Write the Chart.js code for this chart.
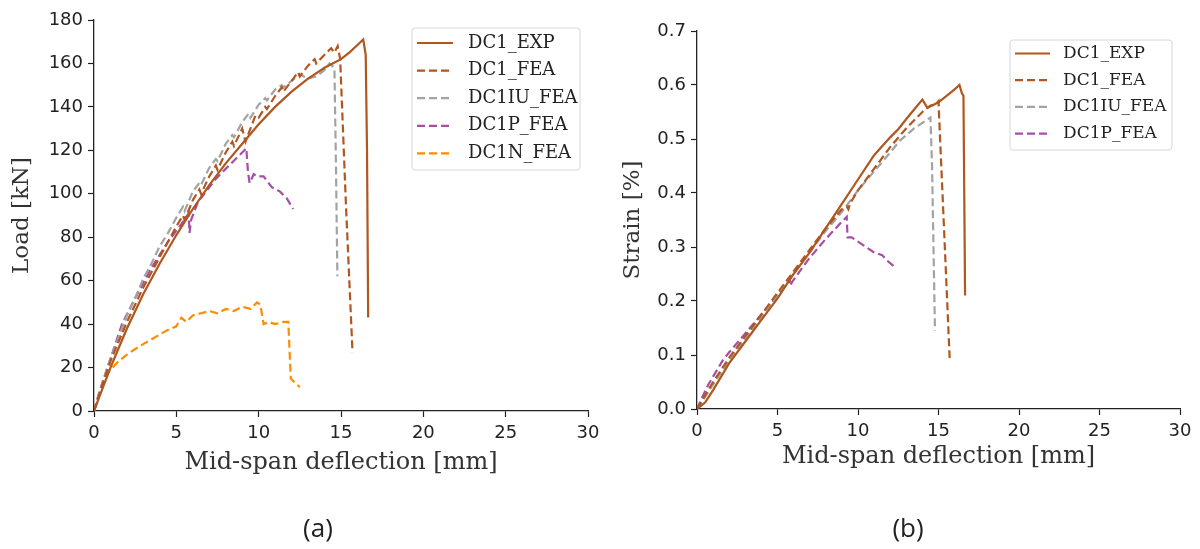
<!DOCTYPE html>
<html>
<head>
<meta charset="utf-8">
<script src="https://cdn.jsdelivr.net/npm/chart.js@4.4.1/dist/chart.umd.min.js"></script>
<style>
  body { margin: 0; background: #fff; }
  #wrap { position: relative; width: 1200px; height: 549px; overflow: hidden; }
  .pane { position: absolute; top: 0; width: 600px; height: 549px; }
  .cap { position: absolute; font-family: "Open Sans", sans-serif; font-size: 26px; color: #222; transform: translate(-50%, -50%); }
</style>
</head>
<body>
<div id="wrap">
  <div class="pane" style="left:0"><canvas id="loadChart" width="600" height="549"></canvas></div>
  <div class="pane" style="left:600px"><canvas id="strainChart" width="600" height="549"></canvas></div>
  <div class="cap" style="left:318px; top:527px">(a)</div>
  <div class="cap" style="left:908px; top:527px">(b)</div>
</div>
<script>
// (a) load vs mid-span deflection
const expLoadX = [0, 0.3, 0.7, 1, 1.5, 2, 3, 4, 5, 6, 7, 8, 9, 10, 11, 12, 13, 14, 15, 15.5, 16, 16.35, 16.5, 16.58, 16.65];
const expLoadY = [0, 6, 14, 20, 29, 38, 54, 68, 81, 93, 104, 114, 123, 132, 140, 147, 153, 158, 162, 165, 168.5, 171, 164, 120, 43];

const feaLoadX = [0, 0.5, 1, 1.5, 2, 2.5, 3, 3.5, 4, 4.5, 5, 5.4, 5.5, 6, 6.4, 6.5, 7, 7.4, 7.5, 8, 8.4, 8.5, 9, 9.2, 9.4, 9.8, 10, 10.4, 10.5, 11, 11.4, 11.5, 12, 12.4, 12.5, 13, 13.4, 13.5, 14, 14.4, 14.6, 14.8, 14.95, 15.3, 15.7];
const feaLoadY = [0, 12, 23, 32, 41, 49, 57, 64, 71, 78, 85, 90, 88, 97, 102, 100, 108, 113, 111, 119, 124, 122, 130, 124, 128, 136, 135, 140, 139, 145, 149, 147, 152, 156, 154, 159, 162, 160, 164, 167, 165, 168, 162, 95, 27];

const iuLoadX = [0, 0.5, 1, 1.5, 2, 2.5, 3, 3.5, 4, 4.5, 5, 5.4, 5.5, 6, 6.4, 6.5, 7, 7.4, 7.5, 8, 8.4, 8.5, 9, 9.4, 9.5, 10, 10.4, 10.5, 11, 11.4, 11.5, 12, 12.5, 13, 13.5, 14, 14.3, 14.6, 14.7, 14.78];
const iuLoadY = [0, 13, 24, 34, 44, 52, 61, 68, 76, 82, 89, 94, 92, 101, 105, 104, 112, 116, 115, 123, 127, 126, 133, 137, 135, 141, 144, 143, 148, 150, 149, 152, 155, 153, 154, 157, 160, 158, 110, 62];

const pLoadX = [0, 0.3, 0.6, 1, 1.7, 2.5, 3, 3.5, 4, 4.5, 5, 5.5, 5.75, 5.8, 5.9, 6.3, 6.8, 7.3, 7.8, 8.2, 8.6, 9, 9.25, 9.35, 9.45, 9.7, 9.9, 10.3, 10.8, 11.3, 11.7, 12.1];
const pLoadY = [0, 8, 15, 24, 40, 52, 59, 66, 72, 78, 83, 88, 91, 82, 88, 96, 101, 106, 110, 113, 116, 119, 121, 110, 105, 109, 108, 108, 103, 101, 98, 93];

const nLoadX = [0, 0.3, 0.7, 1, 1.5, 2, 2.8, 3.5, 4.4, 5, 5.3, 5.6, 6, 6.5, 7, 7.5, 8, 8.5, 9, 9.5, 9.9, 10.1, 10.3, 10.6, 11, 11.5, 11.8, 11.95, 12.2, 12.5];
const nLoadY = [0, 7, 16, 19, 23, 26, 30, 33, 37, 39, 43, 41, 44, 45, 46, 45, 47, 46, 48, 47, 50, 49, 40, 41, 40, 41, 41, 15, 13, 11];

// (b) strain vs mid-span deflection
const expStrainX = [0, 0.5, 1, 1.5, 2, 3, 4, 5, 6, 7, 8, 9, 10, 11, 12, 12.5, 13, 13.5, 14, 14.3, 14.6, 15, 15.5, 16, 16.3, 16.45, 16.55, 16.6, 16.65];
const expStrainY = [0, 0.012, 0.035, 0.06, 0.085, 0.125, 0.165, 0.205, 0.25, 0.29, 0.335, 0.38, 0.425, 0.47, 0.503, 0.518, 0.537, 0.555, 0.573, 0.558, 0.562, 0.568, 0.58, 0.592, 0.6, 0.585, 0.58, 0.4, 0.21];

const feaStrainX = [0, 0.5, 1, 2, 3, 4, 5, 6, 7, 8, 9, 9.3, 9.4, 9.5, 10, 11, 12, 13, 14, 14.5, 14.8, 15, 15.1, 15.7];
const feaStrainY = [0, 0.025, 0.05, 0.095, 0.135, 0.175, 0.215, 0.255, 0.295, 0.335, 0.37, 0.375, 0.37, 0.38, 0.405, 0.445, 0.485, 0.52, 0.55, 0.562, 0.563, 0.57, 0.5, 0.09];

const iuStrainX = [0, 0.5, 1, 2, 3, 4, 5, 6, 7, 8, 9, 10, 11, 12, 12.6, 13, 13.5, 14, 14.5, 14.6, 14.78];
const iuStrainY = [0, 0.022, 0.045, 0.09, 0.13, 0.17, 0.21, 0.25, 0.29, 0.33, 0.365, 0.405, 0.44, 0.475, 0.497, 0.507, 0.52, 0.53, 0.54, 0.45, 0.145];

const pStrainX = [0, 0.3, 0.7, 1, 1.6, 2, 3, 4, 5, 5.5, 5.75, 5.8, 5.9, 6.5, 7, 8, 9, 9.3, 9.35, 9.6, 10, 10.5, 11, 11.5, 11.8, 12.2];
const pStrainY = [0, 0.02, 0.045, 0.06, 0.09, 0.105, 0.14, 0.175, 0.21, 0.23, 0.24, 0.228, 0.235, 0.26, 0.28, 0.315, 0.347, 0.356, 0.318, 0.318, 0.31, 0.3, 0.29, 0.285, 0.275, 0.265];

const xTicks = [0, 5, 10, 15, 20, 25, 30];
const loadTicks = [0, 20, 40, 60, 80, 100, 120, 140, 160, 180];
const strainTicks = [0, 0.1, 0.2, 0.3, 0.4, 0.5, 0.6, 0.7];

const brown = '#b0561f';
const grey = '#a3a3a3';
const purple = '#a44ea6';
const orange = '#ff8c00';
const dash = [8, 4];

function pts(xs, ys) {
    return xs.map((x, i) => ({ x: x, y: ys[i] }));
}

function series(label, xs, ys, color, dashed) {
    return {
        label: label,
        data: pts(xs, ys),
        borderColor: color,
        backgroundColor: color,
        borderWidth: 2.2,
        borderDash: dashed ? dash : [],
        pointRadius: 0,
        tension: 0,
        fill: false
    };
}

// legend drawn inside the plot, matplotlib style
const boxLegend = {
    id: 'boxLegend',
    afterDraw(chart, args, o) {
        const ctx = chart.ctx;
        ctx.save();
        ctx.beginPath();
        ctx.roundRect(o.x, o.y, o.w, o.h, 3);
        ctx.fillStyle = 'rgba(255,255,255,0.85)';
        ctx.fill();
        ctx.strokeStyle = '#d6d6d6';
        ctx.lineWidth = 1;
        ctx.stroke();
        ctx.font = o.font;
        ctx.textBaseline = 'middle';
        ctx.textAlign = 'left';
        chart.data.datasets.forEach((ds, i) => {
            const y = o.y + o.first + i * o.step;
            ctx.beginPath();
            ctx.setLineDash(ds.borderDash);
            ctx.strokeStyle = ds.borderColor;
            ctx.lineWidth = 2.2;
            ctx.moveTo(o.x + 5, y);
            ctx.lineTo(o.x + 5 + o.lineLen, y);
            ctx.stroke();
            ctx.setLineDash([]);
            ctx.fillStyle = '#222';
            ctx.fillText(ds.label, o.x + o.textOff, y);
        });
        ctx.restore();
    }
};

function makeOptions(cfg) {
    return {
        responsive: false,
        animation: false,
        layout: { padding: cfg.padding },
        plugins: {
            legend: { display: false },
            tooltip: { enabled: false },
            boxLegend: cfg.legend
        },
        scales: {
            x: {
                type: 'linear',
                min: 0,
                max: 30,
                afterBuildTicks: (s) => { s.ticks = xTicks.map(v => ({ value: v })); },
                afterFit: (s) => {
                    s.height = cfg.xHeight;
                    s.paddingLeft = 0;
                    s.paddingRight = 0;
                },
                grid: { display: true, drawOnChartArea: false, tickLength: 6, color: '#222', tickWidth: 1.2 },
                border: { display: true, color: '#222', width: 1.3 },
                ticks: { color: '#222', padding: 6, font: { family: 'DejaVu Sans', size: 18 } },
                title: { display: true, text: 'Mid-span deflection [mm]', color: '#333', padding: 0, font: { family: 'DejaVu Serif', size: 24 } }
            },
            y: {
                type: 'linear',
                min: 0,
                max: cfg.yMax,
                afterBuildTicks: (s) => { s.ticks = cfg.yTicks.map(v => ({ value: v })); },
                afterFit: (s) => { s.width = cfg.yWidth; },
                grid: { display: true, drawOnChartArea: false, tickLength: 6, color: '#222', tickWidth: 1.2 },
                border: { display: true, color: '#222', width: 1.3 },
                ticks: { color: '#222', padding: 5, font: { family: 'DejaVu Sans', size: 18 }, callback: cfg.yFormat },
                title: { display: true, text: cfg.yTitle, color: '#333', padding: 0, font: { family: 'DejaVu Serif', size: 23 } }
            }
        }
    };
}

new Chart(document.getElementById('loadChart'), {
    type: 'line',
    data: {
        datasets: [
            series('DC1_EXP', expLoadX, expLoadY, brown, false),
            series('DC1_FEA', feaLoadX, feaLoadY, brown, true),
            series('DC1IU_FEA', iuLoadX, iuLoadY, grey, true),
            series('DC1P_FEA', pLoadX, pLoadY, purple, true),
            series('DC1N_FEA', nLoadX, nLoadY, orange, true)
        ]
    },
    options: makeOptions({
        padding: { left: 8, right: 12, top: 20, bottom: 72 },
        xHeight: 66,
        yWidth: 86,
        yMax: 180,
        yTicks: loadTicks,
        yTitle: 'Load [kN]',
        yFormat: (v) => v,
        legend: { x: 412, y: 28, w: 168, h: 142, first: 15, step: 27.6, lineLen: 36, textOff: 56, font: '18px "DejaVu Serif"' }
    }),
    plugins: [boxLegend]
});

new Chart(document.getElementById('strainChart'), {
    type: 'line',
    data: {
        datasets: [
            series('DC1_EXP', expStrainX, expStrainY, brown, false),
            series('DC1_FEA', feaStrainX, feaStrainY, brown, true),
            series('DC1IU_FEA', iuStrainX, iuStrainY, grey, true),
            series('DC1P_FEA', pStrainX, pStrainY, purple, true)
        ]
    },
    options: makeOptions({
        padding: { left: 19, right: 20, top: 31, bottom: 78 },
        xHeight: 62,
        yWidth: 78,
        yMax: 0.7,
        yTicks: strainTicks,
        yTitle: 'Strain [%]',
        yFormat: (v) => v.toFixed(1),
        legend: { x: 410, y: 40, w: 162, h: 110, first: 13.5, step: 26.7, lineLen: 35, textOff: 53, font: '17px "DejaVu Serif"' }
    }),
    plugins: [boxLegend]
});
</script>
</body>
</html>
